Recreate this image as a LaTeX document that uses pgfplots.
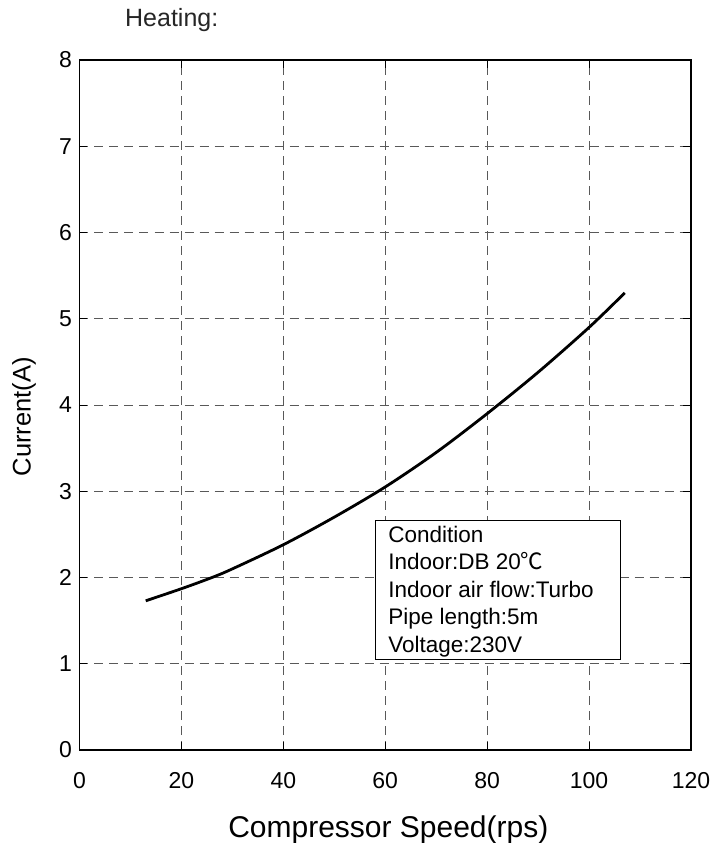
\documentclass[border=0pt]{standalone}
\usepackage{fontspec}
\setmainfont{Liberation Sans}
\newfontfamily\cjk{Noto Sans CJK SC}
\usepackage{pgfplots}
\pgfplotsset{compat=1.18}

\pgfplotstableread{
speed current
13  1.73
20  1.87
26  2.00
30  2.10
40  2.38
50  2.70
60  3.05
70  3.45
80  3.90
90  4.38
100 4.90
107 5.30
}\heating

\begin{document}
\begin{tikzpicture}
\begin{axis}[
    scale only axis,
    width=611.5pt, height=690pt,
    xmin=0, xmax=120, ymin=0, ymax=8,
    xtick={0,20,...,120}, ytick={0,1,...,8},
    /pgf/number format/assume math mode=true,
    tick label style={font=\fontsize{23}{26}\selectfont},
    xticklabel style={anchor=north, inner sep=0pt, yshift=-22pt},
    yticklabel style={anchor=east, inner sep=0pt, xshift=-7.5pt},
    tick align=inside, major tick length=8pt,
    tick style={black, line width=1pt},
    axis line style={black, line width=1.3pt},
    grid=major,
    major grid style={black!65, line width=1pt, dash pattern=on 9pt off 6pt},
    xlabel={Compressor Speed(rps)},
    ylabel={Current(A)},
    xlabel style={font=\fontsize{30}{36}\selectfont, at={(axis description cs:0.505,-0.1261)}, anchor=base},
    ylabel style={font=\fontsize{25.5}{30}\selectfont, at={(axis description cs:-0.0908,0.483)}, anchor=center},
    clip=false,
  ]
  \addplot[black, line width=2.8pt, smooth] table[x=speed, y=current] {\heating};
  \draw[black, line width=1pt, fill=white] (axis cs:58,1.055) rectangle (axis cs:106.07,2.66);
  \node[anchor=north west, inner sep=0pt, align=left,
        font=\fontsize{22.5}{27.6}\selectfont, xshift=13pt, yshift=-5pt]
    at (axis cs:58,2.66)
    {Condition\\Indoor:DB 20{\cjk ℃}\\Indoor air flow:Turbo\\Pipe length:5m\\Voltage:230V};
  \node[anchor=base west, inner sep=0pt, font=\fontsize{25}{30}\selectfont,
        xshift=45.5pt, yshift=34pt, text=black!85] at (rel axis cs:0,1) {Heating:};
\end{axis}
\pgfresetboundingbox
\path (current axis.south west) ++(-79.5pt,-93pt) rectangle ++(722pt,843pt);
\end{tikzpicture}
\end{document}
